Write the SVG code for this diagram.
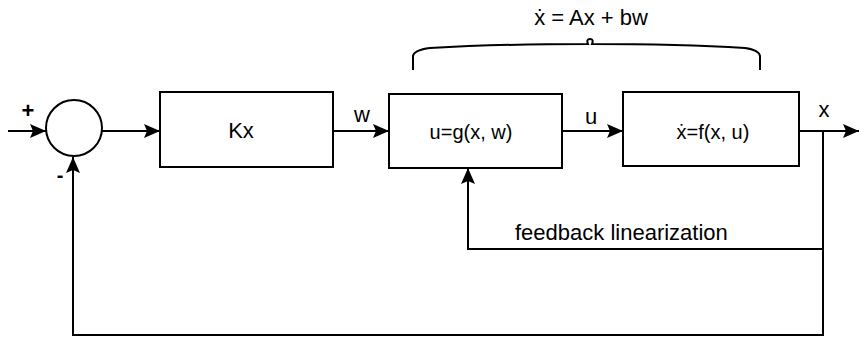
<svg xmlns="http://www.w3.org/2000/svg" width="860" height="343" viewBox="0 0 860 343">
<style>
.ln{fill:none;stroke:#000;stroke-width:2}
.bx{fill:#fff;stroke:#000;stroke-width:2}
.t{font-family:"Liberation Sans",Arial,sans-serif;font-size:20px;fill:#000}
.c{text-anchor:middle}
.big{font-size:22px}
</style>
<defs>
<marker id="ah" viewBox="0 0 16 14" refX="16" refY="7" markerWidth="16" markerHeight="14" markerUnits="userSpaceOnUse" orient="auto">
<path d="M0,0 L16,7 L0,14 L3,7 Z" fill="#000"/>
</marker>
</defs>
<g id="connectors">
<line class="ln" x1="8" y1="131" x2="46" y2="131" marker-end="url(#ah)"/>
<line class="ln" x1="102" y1="131" x2="160" y2="131" marker-end="url(#ah)"/>
<line class="ln" x1="333" y1="131" x2="389" y2="131" marker-end="url(#ah)"/>
<line class="ln" x1="562" y1="131" x2="623" y2="131" marker-end="url(#ah)"/>
<line class="ln" x1="799" y1="131" x2="859" y2="131" marker-end="url(#ah)"/>
<polyline class="ln" points="823,131 823,249 468,249 468,168" marker-end="url(#ah)"/>
<polyline class="ln" points="823,249 823,335 73,335 73,157" marker-end="url(#ah)"/>
</g>
<g id="sum">
<circle class="bx" cx="74" cy="128" r="28"/>
<text class="t big" x="28" y="118" text-anchor="middle" font-weight="bold">+</text>
<text class="t" x="60" y="182" text-anchor="middle" font-weight="bold">-</text>
</g>
<g id="kx">
<rect class="bx" x="160" y="92" width="173" height="75"/>
<text class="t c big" x="241" y="138">Kx</text>
</g>
<g id="g">
<rect class="bx" x="389" y="94" width="173" height="74"/>
<text class="t c" x="471" y="139">u=g(x, w)</text>
</g>
<g id="f">
<rect class="bx" x="623" y="92" width="176" height="74"/>
<text class="t c" x="713" y="139">ẋ=f(x, u)</text>
</g>
<g id="labels">
<text class="t c big" x="362" y="122">w</text>
<text class="t c big" x="591" y="124">u</text>
<text class="t c big" x="824" y="117">x</text>
<text class="t big" x="515" y="240">feedback linearization</text>
</g>
<g id="brace">
<path class="ln" d="M413,70 L413,56 Q414,50 430,48 Q500,44 588,44 Q586,39 590,39 Q594,39 592,44 Q680,44 745,48 Q759,50 760,56 L760,70"/>
<text class="t c big" x="591" y="25">ẋ = Ax + bw</text>
</g>
</svg>
